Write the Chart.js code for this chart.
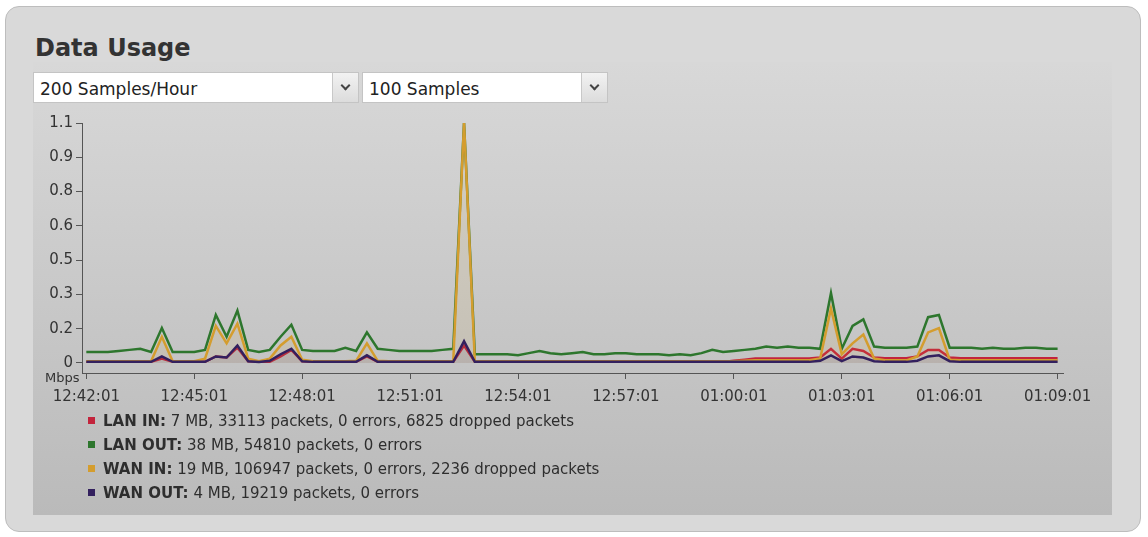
<!DOCTYPE html>
<html>
<head>
<meta charset="utf-8">
<script src="https://cdn.jsdelivr.net/npm/chart.js@4/dist/chart.umd.min.js"></script>
<style>
  body { margin: 0; width: 1148px; height: 537px; background: #fff; overflow: hidden; font-family: "DejaVu Sans", sans-serif; }
  #panel { position: absolute; left: 5px; top: 6px; width: 1134px; height: 524px; background: #d9d9d9; border: 1px solid #bdbdbd; border-radius: 14px; }
  #inner { position: absolute; left: 33px; top: 62px; width: 1079px; height: 453px; background: linear-gradient(#d8d8d8, #bababa); }
  #title { position: absolute; left: 35px; top: 34px; font-size: 24px; font-weight: bold; color: #333; }
  .sel { position: absolute; top: 72px; height: 31px; background: #fff; border: 1px solid #c4c4c4; box-sizing: border-box; }
  .sel span { position: absolute; left: 6px; top: 6px; font-size: 17px; color: #222; }
  .sel .btn { position: absolute; right: 0; top: 0; bottom: 0; width: 25px; background: linear-gradient(#f2f2f2, #dcdcdc); border-left: 1px solid #c8c8c8; }
  .sel .btn i { position: absolute; left: 9px; top: 9px; width: 5px; height: 5px; border-right: 2px solid #444; border-bottom: 2px solid #444; transform: rotate(45deg); }
  #wrap { position: absolute; left: 0; top: 0; width: 1148px; height: 420px; }
  #mbps { position: absolute; left: 45px; top: 370px; font-size: 13px; color: #333; }
  .leg { position: absolute; left: 88px; font-size: 15px; color: #2e2e2e; line-height: 18px; }
  .leg i { display: inline-block; width: 7px; height: 7px; margin-right: 8px; vertical-align: 2px; }
</style>
</head>
<body>
<div id="panel"></div>
<div id="inner"></div>
<div id="title">Data Usage</div>
<div class="sel" style="left:33px;width:326px"><span>200 Samples/Hour</span><div class="btn"><i></i></div></div>
<div class="sel" style="left:362px;width:246px"><span>100 Samples</span><div class="btn"><i></i></div></div>
<div id="wrap"><canvas id="grafico"></canvas></div>
<div id="mbps">Mbps</div>
<div id="legenda"></div>

<script>
// eixos
const xTickLabels = ['12:42:01', '12:45:01', '12:48:01', '12:51:01', '12:54:01', '12:57:01', '01:00:01', '01:03:01', '01:06:01', '01:09:01']
const yTickLabels = ['0', '0.2', '0.3', '0.5', '0.6', '0.8', '0.9', '1.1']
const yMax = 1.1
const samplesPerTick = 10

// séries (Mbps, uma amostra a cada 18 s)
const lanIn = [
  .005, .005, .005, .005, .005, .005, .005, .02, .005, .005,
  .005, .005, .03, .025, .07, .008, .005, .005, .03, .06,
  .008, .005, .005, .005, .005, .005, .03, .005, .005, .005,
  .005, .005, .005, .005, .005, .08, .005, .005, .005, .005,
  .005, .005, .005, .005, .005, .005, .005, .005, .005, .005,
  .005, .005, .005, .005, .005, .005, .005, .005, .005, .005,
  .01, .015, .02, .02, .02, .02, .02, .02, .025, .065,
  .02, .065, .055, .025, .022, .022, .022, .03, .06, .06,
  .025, .022, .022, .022, .022, .022, .022, .022, .022, .022,
  .022
]
const lanOut = [
  .05, .05, .05, .055, .06, .065, .05, .16, .05, .05,
  .05, .06, .22, .12, .24, .06, .05, .06, .12, .175,
  .06, .055, .055, .055, .07, .055, .14, .065, .06, .055,
  .055, .055, .055, .06, .065, 1.1, .04, .04, .04, .04,
  .035, .045, .055, .045, .04, .045, .05, .04, .04, .045,
  .045, .04, .04, .04, .035, .04, .035, .045, .06, .05,
  .055, .06, .065, .075, .07, .075, .07, .07, .065, .32,
  .065, .17, .2, .075, .07, .07, .07, .075, .21, .22,
  .07, .07, .07, .065, .07, .065, .065, .07, .07, .065,
  .065
]
const wanIn = [
  .008, .008, .008, .008, .008, .008, .008, .12, .008, .008,
  .008, .02, .17, .09, .18, .02, .008, .02, .08, .12,
  .015, .008, .008, .008, .008, .01, .09, .01, .008, .008,
  .008, .008, .008, .008, .008, 1.1, .008, .008, .008, .008,
  .008, .008, .008, .008, .008, .008, .008, .008, .008, .008,
  .008, .008, .008, .008, .008, .008, .008, .008, .008, .008,
  .008, .01, .012, .012, .012, .012, .012, .012, .02, .25,
  .04, .09, .13, .02, .012, .012, .012, .03, .14, .16,
  .015, .012, .012, .012, .012, .012, .012, .012, .012, .012,
  .012
]
const wanOut = [
  .005, .005, .005, .005, .005, .005, .005, .03, .005, .005,
  .005, .005, .03, .025, .08, .008, .005, .01, .04, .065,
  .008, .005, .005, .005, .005, .005, .035, .005, .005, .005,
  .005, .005, .005, .005, .005, .1, .005, .005, .005, .005,
  .005, .005, .005, .005, .005, .005, .005, .005, .005, .005,
  .005, .005, .005, .005, .005, .005, .005, .005, .005, .005,
  .005, .005, .005, .005, .005, .005, .005, .005, .01, .035,
  .008, .03, .025, .008, .005, .005, .005, .01, .03, .035,
  .008, .005, .005, .005, .005, .005, .005, .005, .005, .005,
  .005
]

// legenda
const nomes = ['LAN IN:', 'LAN OUT:', 'WAN IN:', 'WAN OUT:']
const resumos = [
  ' 7 MB, 33113 packets, 0 errors, 6825 dropped packets',
  '  38 MB, 54810 packets, 0 errors',
  '  19 MB, 106947 packets, 0 errors, 2236 dropped packets',
  ' 4 MB, 19219 packets, 0 errors'
]
const cores = ['#c3243c', '#2d762d', '#d49d2e', '#33205e']
const series = [lanIn, lanOut, wanIn, wanOut]

const fonte = { family: '"DejaVu Sans", sans-serif', size: 15 }

const legendaDiv = document.getElementById('legenda')
nomes.forEach((nome, i) => {
  const div = document.createElement('div')
  div.className = 'leg'
  div.style.top = (412 + i * 24) + 'px'
  div.innerHTML = `<i style="background:${cores[i]}"></i><b>${nome}</b>${resumos[i]}`
  legendaDiv.appendChild(div)
})

const ctx = document.getElementById('grafico').getContext('2d')
new Chart(ctx, {
  type: 'line',
  data: {
    datasets: series.map((s, i) => ({
      label: nomes[i],
      data: s.map((v, j) => ({ x: j, y: v })),
      borderColor: cores[i],
      backgroundColor: cores[i] + '18',
      fill: i >= 2 ? 'origin' : false,
      borderWidth: 2.5,
      pointRadius: 0,
      tension: 0,
      order: 4 - i
    }))
  },
  options: {
    responsive: true,
    maintainAspectRatio: false,
    animation: false,
    layout: { padding: { left: 32, right: 85, top: 123, bottom: 7 } },
    plugins: { legend: { display: false }, tooltip: { enabled: false } },
    scales: {
      x: {
        type: 'linear',
        min: -0.4,
        max: 90.5,
        afterBuildTicks: s => { s.ticks = xTickLabels.map((_, i) => ({ value: i * samplesPerTick })) },
        afterFit: s => { s.height = 40 },
        ticks: { callback: (v, i) => xTickLabels[i], font: fonte, color: '#333', maxRotation: 0, autoSkip: false, padding: 9 },
        grid: { drawOnChartArea: false, tickLength: 6, color: '#555' },
        border: { color: '#555', width: 1 }
      },
      y: {
        min: -0.046,
        max: yMax,
        afterBuildTicks: s => { s.ticks = yTickLabels.map((_, i) => ({ value: yMax * i / (yTickLabels.length - 1) })) },
        afterFit: s => { s.width = 50 },
        ticks: { callback: (v, i) => yTickLabels[i], font: fonte, color: '#333', padding: 3 },
        grid: { drawOnChartArea: false, tickLength: 6, color: '#555' },
        border: { color: '#555', width: 1 }
      }
    }
  }
})
</script>
</body>
</html>
